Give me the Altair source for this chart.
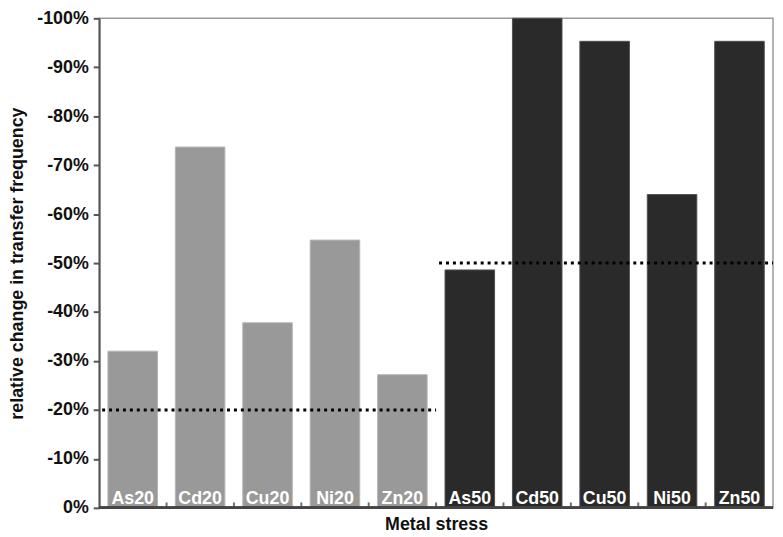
import altair as alt
import pandas as pd

categories = ["As20", "Cd20", "Cu20", "Ni20", "Zn20", "As50", "Cd50", "Cu50", "Ni50", "Zn50"]
values = [-32.0, -73.7, -37.8, -54.7, -27.2, -48.6, -100.0, -95.3, -64.0, -95.3]
groups = ["20", "20", "20", "20", "20", "50", "50", "50", "50", "50"]

thresholds = [-20, -50]
threshold_start = ["As20", "As50"]
threshold_end = ["Zn20", "Zn50"]

y_ticks = [0, -10, -20, -30, -40, -50, -60, -70, -80, -90, -100]

df = pd.DataFrame({"cat": categories, "value": values, "group": groups})
# threshold segments span whole category slots: index of first slot to index after last slot
th = pd.DataFrame({
    "t": thresholds,
    "i0": [categories.index(s) for s in threshold_start],
    "i1": [categories.index(e) + 1 for e in threshold_end],
})
# separators between category slots
sep = pd.DataFrame({"b": list(range(1, len(categories)))})

FONT = "Liberation Sans"

x_scale = alt.Scale(domain=categories, paddingInner=0.265, paddingOuter=0.13)
slot_scale = alt.Scale(domain=[0, len(categories)], nice=False, zero=False)

x_enc = alt.X(
    "cat:N",
    scale=x_scale,
    axis=alt.Axis(
        title="Metal stress",
        labels=False,
        domain=False,
        ticks=False,
        titleFont=FONT,
        titleFontSize=18,
        titleFontWeight="bold",
        titleColor="#111111",
        titleY=17,
        titleBaseline="middle",
    ),
)

y_scale = alt.Scale(domain=[0, -100], nice=False, zero=False)

bars = alt.Chart(df).mark_bar(strokeWidth=1).encode(
    x=x_enc,
    y=alt.Y(
        "value:Q",
        scale=y_scale,
        stack=None,
        axis=alt.Axis(
            title="relative change in transfer frequency",
            values=y_ticks,
            labelExpr="datum.value == 0 ? '0%' : '-' + abs(datum.value) + '%'",
            labelFont=FONT,
            labelFontSize=18,
            labelFontWeight="bold",
            labelColor="#111111",
            labelPadding=5,
            tickSize=6,
            tickWidth=2,
            tickColor="#555555",
            domainColor="#555555",
            domainWidth=2,
            grid=False,
            titleFont=FONT,
            titleFontSize=18,
            titleFontWeight="bold",
            titleColor="#111111",
            titleX=-82,
            titleY=247,
            titleAlign="center",
            titleBaseline="middle",
            titleAngle=-90,
        ),
    ),
    color=alt.Color("group:N", scale=alt.Scale(domain=["20", "50"], range=["#999999", "#2a2a2a"]), legend=None),
    stroke=alt.Stroke("group:N", scale=alt.Scale(domain=["20", "50"], range=["#b5b5b5", "#505050"]), legend=None),
)

labels = alt.Chart(df).mark_text(
    color="white", font=FONT, fontSize=18, fontWeight="bold", baseline="alphabetic", dy=-4
).encode(
    x=alt.X("cat:N", scale=x_scale),
    y=alt.datum(0),
    text="cat:N",
)

band_layer = alt.layer(bars, labels)

lines = alt.Chart(th).mark_rule(
    color="black", strokeWidth=3, strokeDash=[3, 4], xOffset=3
).encode(
    x=alt.X("i0:Q", scale=slot_scale, axis=None),
    x2=alt.X2("i1:Q"),
    y=alt.Y("t:Q", scale=y_scale),
)

ticks = alt.Chart(sep).mark_tick(
    orient="vertical", size=5, thickness=2, color="#333333", yOffset=-3
).encode(
    x=alt.X("b:Q", scale=slot_scale, axis=None),
    y=alt.datum(0),
)

baseline = alt.Chart(sep).mark_rule(color="#444444", strokeWidth=2).encode(y=alt.datum(0))

slot_layer = alt.layer(lines, ticks, baseline)

chart = (
    alt.layer(band_layer, slot_layer)
    .resolve_scale(x="independent")
    .properties(
        width=680,
        height=494,
        autosize=alt.AutoSizeParams(type="none"),
        padding={"left": 92, "top": 8, "right": 2, "bottom": 27},
    )
    .configure_view(stroke="#9a9a9a", strokeWidth=1.5)
)

chart.save("out.html", embed_options={"renderer": "svg", "actions": False})
